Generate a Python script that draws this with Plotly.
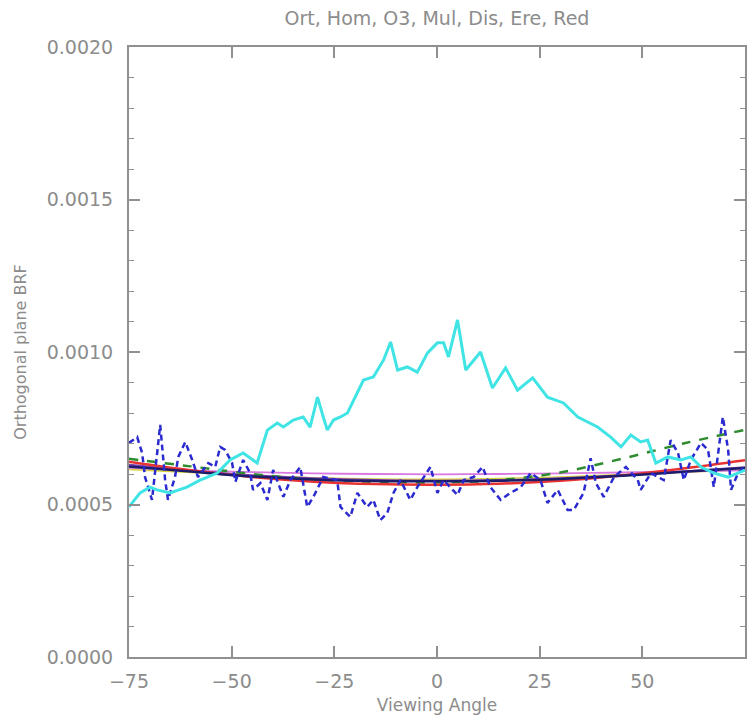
import plotly.graph_objects as go

# ---- data ----
cyan_x = [-75, -72.3, -69.9, -68.2, -65.0, -60.9, -57.7, -53.5, -50.4, -47.2, -43.8, -41.3, -38.9, -37.4,
          -35.0, -32.6, -30.9, -29.1, -27.7, -26.7, -25.2, -23.5, -21.8, -19.4, -17.9, -15.5, -13.0, -11.3,
          -9.6, -7.2, -4.8, -2.3, 0.1, 1.6, 2.8, 5.0, 7.0, 10.6, 13.5, 16.7, 19.6, 23.3, 26.9, 30.8, 34.3,
          39.1, 42.3, 44.8, 47.2, 49.6, 51.3, 53.3, 56.2, 59.4, 61.8, 64.3, 67.4, 70.9, 75]
cyan_y = [0.000492, 0.000538, 0.000557, 0.000548, 0.000538, 0.000557, 0.000580, 0.000603, 0.000646, 0.000669,
          0.000636, 0.000744, 0.000767, 0.000754, 0.000777, 0.000787, 0.000754, 0.000852, 0.000787, 0.000744,
          0.000777, 0.000787, 0.000800, 0.000866, 0.000908, 0.000918, 0.000974, 0.001033, 0.000941, 0.000951,
          0.000934, 0.000997, 0.001030, 0.001030, 0.000984, 0.001105, 0.000941, 0.001000, 0.000882, 0.000948,
          0.000875, 0.000915, 0.000852, 0.000833, 0.000787, 0.000754, 0.000721, 0.000689, 0.000728, 0.000705,
          0.000711, 0.000636, 0.000656, 0.000646, 0.000656, 0.000623, 0.000603, 0.000590, 0.000613]

blue_x = [-75, -73.0, -71.8, -71.1, -69.4, -67.9, -67.4, -66.2, -65.5, -63.8, -63.0, -61.3, -59.6, -58.2,
          -55.7, -54.0, -52.8, -51.6, -49.9, -49.1, -47.2, -45.5, -44.8, -43.0, -41.3, -39.9, -37.4, -35.7,
          -33.3, -31.6, -30.1, -27.7, -24.3, -23.5, -21.1, -19.4, -17.0, -15.5, -13.8, -12.1, -10.6, -8.9,
          -6.5, -4.8, -1.6, 0.1, 1.6, 5.0, 6.5, 8.9, 11.1, 13.0, 15.5, 17.9, 20.4, 22.8, 25.2, 26.9, 29.4,
          31.8, 33.3, 35.7, 37.4, 38.7, 40.6, 43.1, 46.0, 48.9, 49.6, 52.1, 55.2, 56.9, 58.7, 60.1, 61.8,
          64.3, 66.0, 67.4, 69.1, 69.6, 70.9, 71.6, 73.3, 74.8]
blue_y = [0.000702, 0.000721, 0.000669, 0.000590, 0.000515, 0.000702, 0.000761, 0.000580, 0.000515, 0.000590,
          0.000656, 0.000705, 0.000646, 0.000590, 0.000636, 0.000623, 0.000689, 0.000679, 0.000636, 0.000574,
          0.000646, 0.000603, 0.000548, 0.000570, 0.000515, 0.000613, 0.000525, 0.000580, 0.000623, 0.000492,
          0.000525, 0.000590, 0.000580, 0.000492, 0.000459, 0.000538, 0.000492, 0.000515, 0.000449, 0.000472,
          0.000538, 0.000580, 0.000515, 0.000557, 0.000623, 0.000538, 0.000580, 0.000531, 0.000580, 0.000590,
          0.000623, 0.000557, 0.000515, 0.000538, 0.000557, 0.000603, 0.000580, 0.000505, 0.000548, 0.000482,
          0.000482, 0.000538, 0.000652, 0.000570, 0.000525, 0.000590, 0.000623, 0.000580, 0.000548, 0.000603,
          0.000580, 0.000711, 0.000669, 0.000580, 0.000646, 0.000702, 0.000679, 0.000557, 0.000734, 0.000787,
          0.000679, 0.000548, 0.000603, 0.000623]

smooth_x = [-75, -60, -45, -30, -15, 0, 15, 30, 45, 60, 75]
green_y = [0.000650, 0.000625, 0.000600, 0.000582, 0.000574, 0.000572, 0.000580, 0.000605, 0.000650, 0.000700, 0.000745]
red_y = [0.000640, 0.000612, 0.000590, 0.000575, 0.000567, 0.000565, 0.000568, 0.000578, 0.000595, 0.000618, 0.000645]
black_y = [0.000625, 0.000608, 0.000592, 0.000582, 0.000577, 0.000576, 0.000578, 0.000584, 0.000594, 0.000607, 0.000620]
purple_y = [0.000630, 0.000612, 0.000596, 0.000586, 0.000580, 0.000578, 0.000580, 0.000586, 0.000596, 0.000608, 0.000622]
yellow_y = [0.000615, 0.000605, 0.000595, 0.000588, 0.000584, 0.000583, 0.000585, 0.000590, 0.000598, 0.000606, 0.000614]
magenta_y = [0.000620, 0.000612, 0.000606, 0.000602, 0.000600, 0.000599, 0.000600, 0.000602, 0.000605, 0.000608, 0.000612]

x_ticks = [-75, -50, -25, 0, 25, 50, 75]
y_ticks = [0.0000, 0.0005, 0.0010, 0.0015, 0.0020]
y_ticklabels = ["0.0000", "0.0005", "0.0010", "0.0015", "0.0020"]

fig = go.Figure()
fig.add_trace(go.Scatter(x=smooth_x, y=yellow_y, mode="lines", line=dict(color="#D8D040", width=1.5, shape="spline")))
fig.add_trace(go.Scatter(x=smooth_x, y=magenta_y, mode="lines", line=dict(color="#D878E0", width=1.8, shape="spline")))
fig.add_trace(go.Scatter(x=smooth_x, y=purple_y, mode="lines", line=dict(color="#8040B0", width=2, shape="spline")))
fig.add_trace(go.Scatter(x=smooth_x, y=green_y, mode="lines", line=dict(color="#2E8B2E", width=2.5, dash="dash", shape="spline")))
fig.add_trace(go.Scatter(x=smooth_x, y=red_y, mode="lines", line=dict(color="#E83232", width=2.5, shape="spline")))
fig.add_trace(go.Scatter(x=smooth_x, y=black_y, mode="lines", line=dict(color="#1C1C6A", width=2.5, shape="spline")))
fig.add_trace(go.Scatter(x=blue_x, y=blue_y, mode="lines", line=dict(color="#2A2AD0", width=2.5, dash="6px,4px")))
fig.add_trace(go.Scatter(x=cyan_x, y=cyan_y, mode="lines", line=dict(color="#40E4E4", width=3)))

axis_col = "#909090"
txt_col = "#8c8c8c"
W, H = 747, 715  # page body has an 8px margin
fig.update_layout(
    width=W, height=H,
    margin=dict(l=121, r=10, t=39, b=66, autoexpand=False),
    paper_bgcolor="white", plot_bgcolor="white",
    showlegend=False,
    font=dict(family="DejaVu Sans", color=txt_col),
    title=dict(text="Ort, Hom, O3, Mul, Dis, Ere, Red", x=(437 - 8) / W, xanchor="center",
               y=1 - 4 / H, yanchor="top", yref="container", automargin=False,
               font=dict(size=19, color=txt_col)),
)
fig.update_xaxes(
    range=[-75, 75], tickvals=x_ticks, ticktext=[str(v).replace("-", "\u2212") for v in x_ticks],
    automargin=False,
    showgrid=False, zeroline=False, showline=True, linecolor=axis_col, linewidth=2, mirror="ticks",
    ticks="inside", ticklen=11, tickwidth=1.5, tickcolor=axis_col, ticklabelstandoff=6,
    tickfont=dict(size=19, color=txt_col),
    title=dict(text="Viewing Angle", font=dict(size=17, color=txt_col), standoff=8),
)
fig.update_yaxes(
    range=[0, 0.002], tickvals=y_ticks, ticktext=y_ticklabels,
    automargin=False,
    showgrid=False, zeroline=False, showline=True, linecolor=axis_col, linewidth=2, mirror="ticks",
    ticks="inside", ticklen=11, tickwidth=1.5, tickcolor=axis_col, ticklabelstandoff=10,
    tickfont=dict(size=19, color=txt_col),
    minor=dict(dtick=0.0001, ticks="inside", ticklen=5, tickcolor=axis_col, tickwidth=1, showgrid=False),
    title=dict(text="Orthogonal plane BRF", font=dict(size=16, color=txt_col), standoff=16),
)

fig.write_html("out.html")
